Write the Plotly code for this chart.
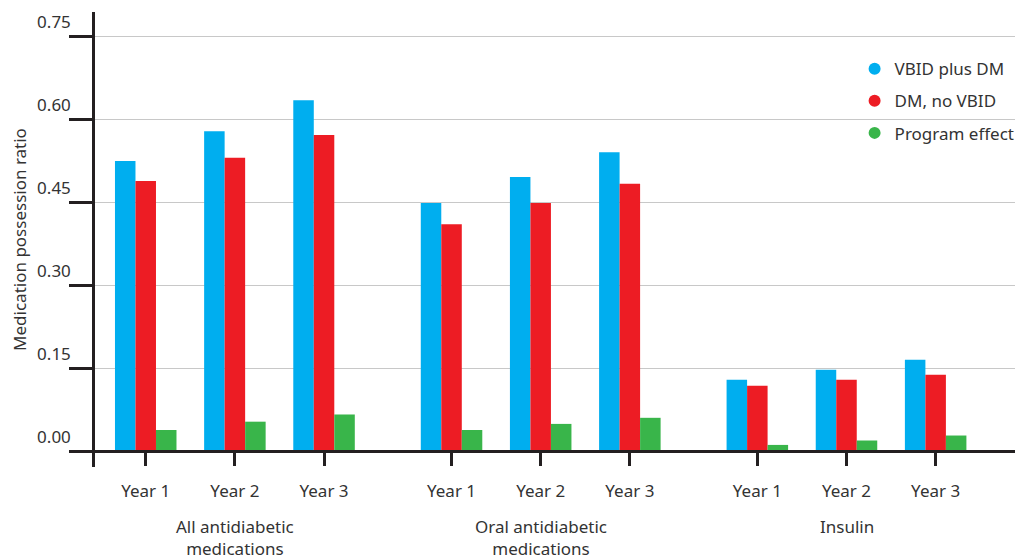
import plotly.graph_objects as go

groups = ["All antidiabetic<br>medications", "Oral antidiabetic<br>medications", "Insulin"]
years = ["Year 1", "Year 2", "Year 3"]
series_names = ["VBID plus DM", "DM, no VBID", "Program effect"]
vbid_plus_dm = [0.524, 0.578, 0.634, 0.448, 0.495, 0.540, 0.129, 0.147, 0.165]
dm_no_vbid = [0.488, 0.530, 0.571, 0.410, 0.448, 0.483, 0.118, 0.129, 0.138]
program_effect = [0.038, 0.053, 0.066, 0.038, 0.049, 0.060, 0.011, 0.019, 0.028]
y_ticks = [0.00, 0.15, 0.30, 0.45, 0.60, 0.75]

colors = ["#00AEEF", "#ED1C24", "#39B54A"]
GROUP_STEP = 3.43
FONT = "Noto Sans"
TXT = "#333333"
AX = "#231f20"

x_pos = [g * GROUP_STEP + j for g in range(len(groups)) for j in range(len(years))]
x_labels = [y for _ in groups for y in years]
group_centers = [g * GROUP_STEP + 1 for g in range(len(groups))]

fig = go.Figure()
for name, vals, col in zip(series_names, [vbid_plus_dm, dm_no_vbid, program_effect], colors):
    fig.add_trace(go.Bar(x=x_pos, y=vals, name=name, marker=dict(color=col, line=dict(width=0)),
                         showlegend=False))
for name, col in zip(series_names, colors):
    fig.add_trace(go.Scatter(x=[None], y=[None], mode="markers", name=name, legendgroup=name,
                             marker=dict(color=col, size=12, symbol="circle")))

ymin, ymax = -0.0289, 0.7934
zero_frac = -ymin / (ymax - ymin)

fig.update_layout(
    width=1020, height=559,
    margin=dict(l=95, r=0, t=12, b=92),
    paper_bgcolor="white", plot_bgcolor="white",
    barmode="group", bargap=0.31, bargroupgap=0,
    font=dict(family=FONT, size=17, color=TXT),
    showlegend=True,
    legend=dict(x=1.005, xanchor="right", y=0.914, yanchor="top", bgcolor="rgba(0,0,0,0)",
                font=dict(size=17, color=TXT), itemwidth=30, tracegroupgap=7),
    xaxis=dict(range=[-0.569, 9.75], tickmode="array", tickvals=x_pos, ticktext=x_labels,
               showgrid=False, zeroline=False, showline=True, linecolor=AX, linewidth=2.5,
               ticks="outside", ticklen=13, tickwidth=2.5, tickcolor=AX, automargin=False,
               ticklabelstandoff=11,
               anchor="free", position=zero_frac, tickfont=dict(size=17, color=TXT)),
    yaxis=dict(range=[ymin, ymax], tickmode="array", tickvals=y_ticks,
               ticktext=[f"{v:.2f}" for v in y_ticks],
               showgrid=True, gridcolor="#c8c8c8", gridwidth=1.2,
               zeroline=True, zerolinecolor=AX, zerolinewidth=2.5,
               showline=True, linecolor=AX, linewidth=2.5,
               ticks="outside", ticklen=23, tickwidth=2.5, tickcolor=AX,
               ticklabelshift=-14, ticklabelstandoff=-5, automargin=False,
               tickfont=dict(size=17, color=TXT),
               title=dict(text="Medication possession ratio", font=dict(size=17, color=TXT), standoff=7)),
)

for xc, g in zip(group_centers, groups):
    fig.add_annotation(x=xc, xref="x", y=-0.102, yref="paper", yanchor="top", text=g,
                       showarrow=False, font=dict(size=17, color=TXT), align="center")

fig.write_html("out.html", config={"displayModeBar": False},
               post_script="document.body.style.margin='0';document.body.style.overflow='hidden';")
